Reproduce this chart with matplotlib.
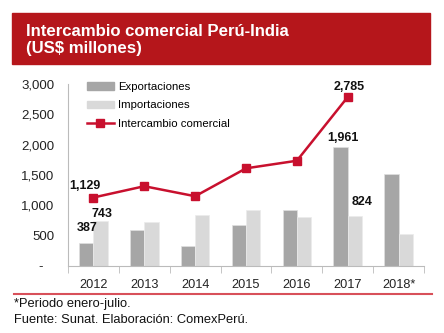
import numpy as np
import matplotlib
matplotlib.use('Agg')
import matplotlib.pyplot as plt
from matplotlib.patches import Rectangle
from matplotlib.lines import Line2D

plt.rcParams['font.family'] = ['Liberation Sans', 'DejaVu Sans']

years = ['2012', '2013', '2014', '2015', '2016', '2017', '2018*']
exportaciones = [387, 595, 330, 680, 930, 1961, 1510]
importaciones = [743, 720, 840, 930, 800, 824, 520]
intercambio = [1129, 1315, 1150, 1610, 1735, 2785]

red = '#B5161B'
line_red = '#C8102E'

fig = plt.figure(figsize=(4.44, 3.33), dpi=100)
W, H = 444, 333

# header box
fig.patches.append(Rectangle((12 / W, 1 - 64 / H), 418 / W, 51 / H,
                             transform=fig.transFigure, color=red, zorder=0))
fig.text(26 / W, 1 - 31 / H, 'Intercambio comercial Perú-India', color='white',
         fontsize=12.1, fontweight='bold', va='center')
fig.text(26 / W, 1 - 48.5 / H, '(US$ millones)', color='white',
         fontsize=12.1, fontweight='bold', va='center')

ax = fig.add_axes([68 / W, 1 - 266 / H, (424 - 68) / W, (266 - 84) / H])
x = np.arange(len(years))
bw = 0.28
ax.bar(x - bw / 2, exportaciones, bw, color='#A6A6A6', edgecolor='#E0E0E0',
       linewidth=0.5, label='Exportaciones', zorder=2)
ax.bar(x + bw / 2, importaciones, bw, color='#D9D9D9', edgecolor='#EBEBEB',
       linewidth=0.5, label='Importaciones', zorder=2)
ax.plot(x[:len(intercambio)], intercambio, color=line_red, lw=1.8, marker='s',
        markersize=6, label='Intercambio comercial', zorder=3)

ax.set_xlim(-0.5, len(years) - 0.5)
ax.set_ylim(0, 3000)
ax.set_yticks(np.arange(0, 3001, 500))
ax.set_yticklabels(['-   '] + [f'{v:,}' for v in range(500, 3001, 500)])
ax.set_xticks(x)
ax.set_xticklabels(years)
ax.set_xticks(np.arange(-0.5, len(years), 1), minor=True)
ax.tick_params(axis='x', which='major', length=0, pad=9, labelsize=9.2, colors='#222222')
ax.tick_params(axis='x', which='minor', length=5, color='#BBBBBB', direction='out')
ax.tick_params(axis='y', length=0, pad=10, labelsize=9.5, colors='#222222')
for s in ['top', 'right']:
    ax.spines[s].set_visible(False)
ax.spines['left'].set_color('#BBBBBB')
ax.spines['bottom'].set_color('#BBBBBB')

# data labels
lab = dict(fontsize=9, fontweight='bold', ha='center', va='center', color='#111111')
ax.text(x[0] - 0.16, 1318, '1,129', **lab)
ax.text(x[0] + 0.17, 857, '743', **lab)
ax.text(x[0] - 0.13, 626, '387', **lab)
ax.text(x[5] + 0.03, 2954, '2,785', **lab)
ax.text(x[5] - 0.10, 2114, '1,961', **lab)
ax.text(x[5] + 0.28, 1054, '824', **lab)

handles = [Rectangle((0, 0), 1, 1, color='#A6A6A6'),
           Rectangle((0, 0), 1, 1, color='#D9D9D9'),
           Line2D([], [], color=line_red, lw=1.8, marker='s', markersize=6)]
ax.legend(handles, ['Exportaciones', 'Importaciones', 'Intercambio comercial'],
          loc='upper left', bbox_to_anchor=(0.04, 1.035), frameon=False,
          fontsize=8.2, handlelength=2.4, handleheight=0.65, labelspacing=0.72,
          handletextpad=0.35, borderaxespad=0)

# bottom red rule and footnotes
fig.add_artist(Line2D([14 / W, 432 / W], [1 - 294 / H, 1 - 294 / H],
                      transform=fig.transFigure, color='#D8505A', lw=1.5))
fig.text(14 / W, 1 - 304.5 / H, '*Periodo enero-julio.', fontsize=9.3,
         va='center', color='#111111')
fig.text(14 / W, 1 - 320 / H, 'Fuente: Sunat. Elaboración: ComexPerú.',
         fontsize=9.3, va='center', color='#111111')

fig.savefig('out.png', dpi=100)
